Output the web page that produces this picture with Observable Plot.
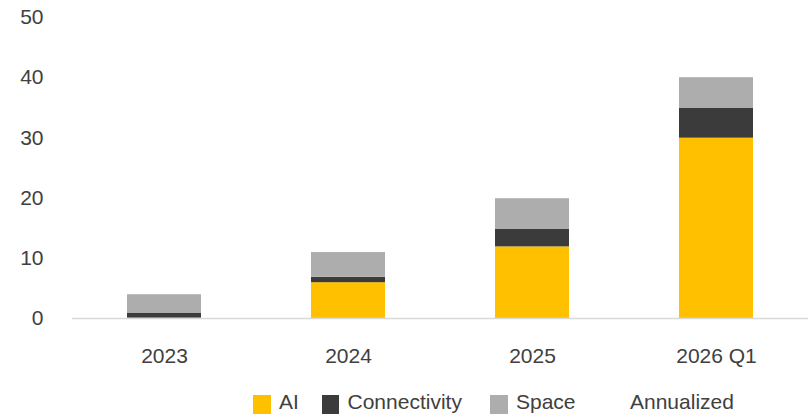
<!DOCTYPE html>
<html>
<head>
<meta charset="utf-8">
<script src="https://cdn.jsdelivr.net/npm/d3@7"></script>
<script src="https://cdn.jsdelivr.net/npm/@observablehq/plot@0.6"></script>
<style>
  html, body { margin: 0; padding: 0; background: #fff; }
  #wrap { position: relative; width: 808px; height: 414px; font-family: "Liberation Sans", Arial, sans-serif; color: #404040; }
  .item { position: absolute; top: 390px; display: flex; align-items: center; font-size: 21px; line-height: 24px; white-space: nowrap; }
  .sw { width: 17.5px; height: 19px; margin-right: 8.5px; margin-top: 4px; }
</style>
</head>
<body>
<div id="wrap"></div>
<script>
const categories = ["2023", "2024", "2025", "2026 Q1"];
const series = ["AI", "Connectivity", "Space"];
const colors = ["#FFC000", "#3B3B3B", "#ADADAD"];
const aiValues = [0.05, 5.95, 11.9, 29.95];
const connectivityValues = [0.85, 0.9, 2.95, 5.0];
const spaceValues = [3.05, 4.1, 5.05, 5.05];
const yTicks = [0, 10, 20, 30, 40, 50];
const legendLabels = ["AI", "Connectivity", "Space", "Annualized"];
const legendColors = ["#FFC000", "#3B3B3B", "#ADADAD", "transparent"];
const legendLeft = [253, 321.5, 490, 604];

const seriesValues = [aiValues, connectivityValues, spaceValues];
const data = [];
categories.forEach((c, i) => {
  series.forEach((s, j) => data.push({category: c, series: s, value: seriesValues[j][i]}));
});

const chart = Plot.plot({
  width: 808,
  height: 380,
  marginLeft: 72,
  marginRight: 0,
  marginTop: 17,
  marginBottom: 62,
  style: {fontFamily: "'Liberation Sans', Arial, sans-serif", fontSize: "21px", color: "#404040", background: "#fff"},
  x: {domain: categories, paddingInner: 0.6, paddingOuter: 0.3, label: null},
  y: {domain: [0, 50], label: null},
  color: {domain: series, range: colors},
  marks: [
    Plot.barY(data, {x: "category", y: "value", fill: "series", order: null}),
    Plot.ruleY([0], {stroke: "#D9D9D9", strokeWidth: 1.5}),
    Plot.axisY({ticks: yTicks, tickSize: 0, tickPadding: 29, label: null, fontSize: 21, fill: "#404040"}),
    Plot.axisX({tickSize: 0, tickPadding: 30, label: null, fontSize: 21, fill: "#404040"})
  ]
});

const wrap = document.getElementById("wrap");
wrap.appendChild(chart);
legendLabels.forEach((name, i) => {
  const it = document.createElement("div");
  it.className = "item";
  it.style.left = legendLeft[i] + "px";
  const sw = document.createElement("span");
  sw.className = "sw";
  sw.style.background = legendColors[i];
  const t = document.createElement("span");
  t.textContent = name;
  it.appendChild(sw);
  it.appendChild(t);
  wrap.appendChild(it);
});
</script>
</body>
</html>
